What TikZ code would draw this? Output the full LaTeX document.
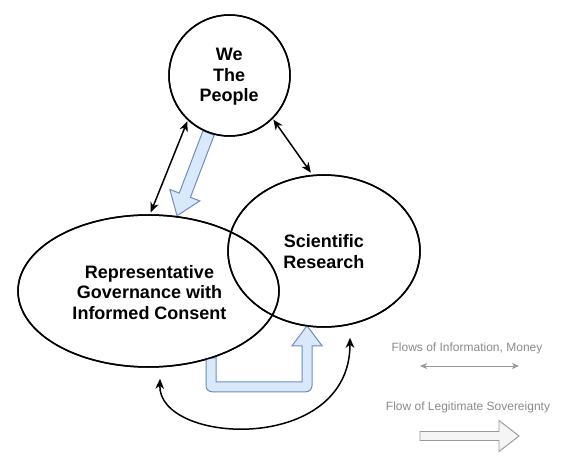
\documentclass[tikz,border=0pt]{standalone}
\usepackage{fontspec}
\setmainfont{Liberation Sans}
\usetikzlibrary{shapes.geometric,arrows.meta,calc}
\definecolor{blueFill}{HTML}{DAE8FC}
\definecolor{blueLine}{HTML}{6C8EBF}
\definecolor{legText}{HTML}{8A8A8A}
\definecolor{legLine}{HTML}{999999}
\definecolor{legFill}{HTML}{F5F5F5}
\tikzset{
  bubble/.style={draw=black, line width=1.5pt, inner sep=0pt, align=center,
    font=\fontsize{18}{20.7}\selectfont\bfseries},
  flow/.style={draw=black, line width=1.5pt,
    {Stealth[length=10pt,width=8.5pt,inset=3pt]}-{Stealth[length=10pt,width=8.5pt,inset=3pt]}},
  sovereign/.style={draw=blueLine, fill=blueFill, line width=1pt, line join=miter},
  legendtext/.style={text=legText, font=\fontsize{12}{14}\selectfont},
}
\begin{document}
\begin{tikzpicture}[x=1pt,y=-1pt]
\useasboundingbox (0,0) rectangle (571,468);

% node geometry (shapes only, text set separately)
\node[bubble, circle, minimum size=121pt] (people) at (229.5,75.5) {};
\node[bubble, ellipse, minimum width=261pt, minimum height=152pt] (gov) at (148.5,291) {};
\node[bubble, ellipse, minimum width=192pt, minimum height=152pt] (sci) at (324,251) {};

% fat arrow: people -> governance
\coordinate (fa1) at (people.250);
\coordinate (fa2) at ($(gov.north)+(28.5,1.5)$);
\coordinate (fh) at ($(fa2)!22pt!(fa1)$);
\path[sovereign] ($(fa1)!6pt!90:(fa2)$) -- ($(fh)!6pt!90:(fa2)$) -- ($(fh)!16pt!90:(fa2)$)
  -- (fa2) -- ($(fh)!16pt!-90:(fa2)$) -- ($(fh)!6pt!-90:(fa2)$) -- ($(fa1)!6pt!-90:(fa2)$) -- cycle;

% bent fat arrow: governance -> science
\coordinate (ba) at ($(gov.south)+(62.5,-9)$);
\path[sovereign] ($(ba)+(-5,0)$) [rounded corners=6pt] -- ++(0,33) -- ++(106,0) [sharp corners] -- ++(0,-46)
  -- ++(10,0) -- ++(-15,-20) -- ++(-15,20) -- ++(10,0) -- ++(0,36) -- ++(-86,0) -- ++(0,-24) -- cycle;

% redraw outlines on top of fills
\node[bubble, circle, minimum size=121pt] at (people) {};
\node[bubble, ellipse, minimum width=261pt, minimum height=152pt] at (gov) {};
\node[bubble, ellipse, minimum width=192pt, minimum height=152pt] at (sci) {};

% texts
\node[bubble, draw=none] (peopletext) at (229.2,76.7) {We\\The\\People};
\node[bubble, draw=none] (govtext) at (149.5,292.5) {Representative\\Governance with\\Informed Consent};
\node[bubble, draw=none] (scitext) at (323.8,251.7) {Scientific\\Research};

% flows of information, money
\draw[flow, shorten <=1pt, shorten >=2pt] (people.227) -- ($(gov.north)+(1.5,0)$);
\draw[flow, shorten <=1pt, shorten >=2pt] (people.-45) -- ($(sci.north)+(-12,0)$);
\draw[flow] ($(gov.south)+(11.5,11)$) .. controls (158,445) and (350,455) .. ($(sci.south)+(26,10)$);

% legend
\node[legendtext] (leg1) at (467,348) {Flows of Information, Money};
\coordinate (l1a) at (420,366);
\coordinate (l1b) at (519,366);
\draw[draw=legLine, line width=1pt, {Stealth[length=7pt,width=6pt,inset=2pt]}-{Stealth[length=7pt,width=6pt,inset=2pt]}] (l1a) -- (l1b);
\node[legendtext] (leg2) at (468,407) {Flow of Legitimate Sovereignty};
\coordinate (l2) at (420,436);
\path[draw=legLine, fill=legFill, line width=0.9pt] ($(l2)+(0,-4.5)$) -- ++(79,0) -- ++(0,-11) -- ++(20,15.5)
  -- ++(-20,15.5) -- ++(0,-11) -- ++(-79,0) -- cycle;
\end{tikzpicture}
\end{document}
